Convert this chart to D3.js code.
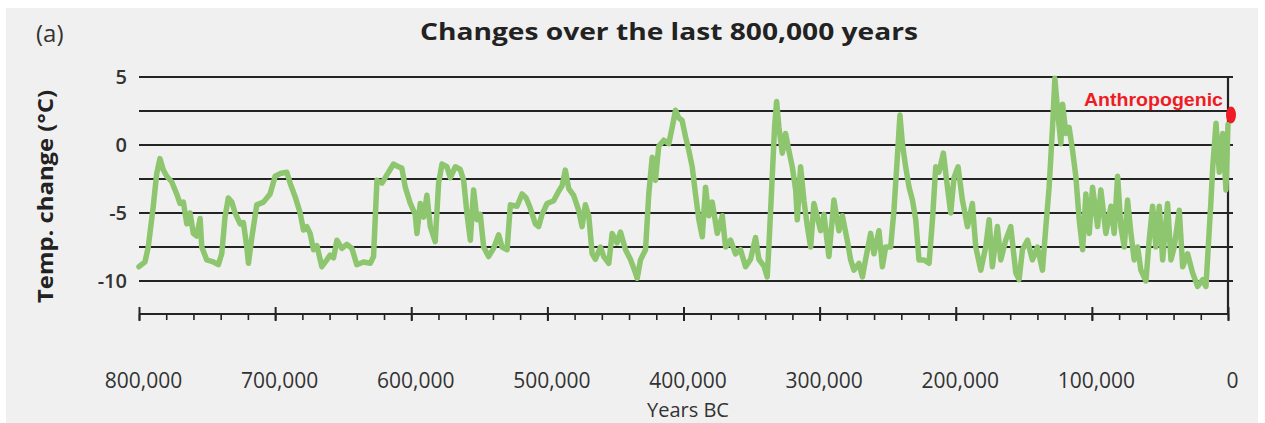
<!DOCTYPE html>
<html>
<head>
<meta charset="utf-8">
<script src="https://cdn.jsdelivr.net/npm/d3@7"></script>
<style>
  html, body { margin: 0; padding: 0; background: #ffffff; }
  svg { display: block; }
</style>
</head>
<body>
<svg id="chart" width="1265" height="423"></svg>
<script>
// ---- Data (years BC in thousands, temperature change in °C) ----
const years = [
  800, 795.6, 793.2, 789.5, 787, 784.6, 782.1, 779.6, 776, 772.3, 769.9, 767.4, 764.9, 762.5, 760.1, 757.6,
  755.1, 753.9, 750.2, 745.4, 741.7, 739.2, 736.8, 734.4, 731.8, 729.4, 725.7, 723.3, 720.8, 719.6, 717.1,
  713.5, 708.6, 703.7, 700, 696.3, 691.4, 689, 685.3, 681.6, 679.2, 676.7, 674.3, 671.8, 669.3, 665.7,
  662, 659.6, 657.1, 654.6, 651, 647.3, 643.6, 640, 635.1, 630.1, 627.7, 625.2, 621.5, 617.9, 613,
  609.4, 606.9, 604.4, 600.7, 597.1, 595.8, 593.4, 590.9, 588.5, 586, 582.4, 579.9, 577.4, 573.8, 571.3,
  567.6, 564, 561.5, 559, 556.6, 554.2, 551.7, 549.3, 546.8, 543.2, 539.5, 535.8, 533.3, 529.6, 527.2,
  522.3, 518.6, 515.6, 512.7, 508.8, 506.4, 503.9, 500.2, 495.4, 491.7, 489.2, 486.8, 484.3, 480.7, 477,
  474.5, 472.1, 469.6, 467.1, 464.7, 461, 458.6, 454.9, 452.4, 448.8, 446.3, 442.6, 439, 435.3, 434,
  431.6, 427.9, 425.5, 423, 420.6, 418.2, 414.5, 410.8, 408.3, 405.9, 403.5, 401, 398.5, 396.1, 393.6,
  391.2, 388.7, 386.2, 383.8, 381.4, 378.9, 375.2, 371.5, 369.1, 365.4, 361.8, 358.1, 354.4, 350.7, 347.1,
  344.6, 340.9, 338.5, 337.3, 334.8, 333.1, 331.6, 329.9, 327.4, 325, 322.6, 320.1, 317.6, 316.4, 314,
  311.5, 309, 306.6, 304.2, 301.7, 299.3, 296.8, 293.2, 289.5, 285.8, 283.3, 279.7, 277.2, 274.8, 271.1,
  268.6, 266.2, 262.5, 260.1, 256.4, 253.9, 251.5, 247.8, 245.4, 242.9, 241, 239.2, 236.8, 234.3, 231.8,
  229.4, 227, 223.3, 219.6, 217.1, 214.7, 212.3, 209.1, 206.1, 203.7, 201.3, 198.3, 195.1, 191.4, 187.8,
  185.3, 181.6, 178, 175.5, 173.1, 169.4, 166.9, 163.3, 159.6, 155.9, 153.5, 151, 147.3, 143.7, 140,
  136.3, 133.8, 131.4, 128.9, 127.2, 125.2, 122.8, 121.5, 119.1, 116.7, 114.2, 111.8, 109.3, 106.8, 104.4,
  101.9, 99.5, 95.8, 93.4, 89.7, 86, 83.6, 81.1, 78.7, 76.2, 73.8, 71.3, 68.9, 66.4, 64,
  60.3, 57.9, 55.4, 53, 50.5, 48, 44.4, 41.9, 39.5, 35.8, 33.3, 29.7, 26, 22.3, 18.6,
  16.2, 14.5, 12.5, 11.2, 8.8, 6.4, 3.9, 1.5, 0
];
const temps = [
  -8.95, -8.6, -7.5, -4.5, -2.1, -1.0, -1.85, -2.3, -2.7, -3.6, -4.3, -4.2, -5.8, -5.0, -6.5, -6.7,
  -5.4, -7.5, -8.45, -8.6, -8.8, -8.0, -5.3, -3.9, -4.2, -5.0, -5.8, -5.7, -7.5, -8.7, -6.8,
  -4.4, -4.2, -3.6, -2.3, -2.1, -2.0, -2.8, -3.8, -5.0, -6.25, -6.0, -6.5, -7.7, -7.4, -8.95,
  -8.45, -8.1, -8.3, -7.0, -7.6, -7.3, -7.6, -8.8, -8.6, -8.7, -8.2, -2.6, -2.8, -2.2, -1.4,
  -1.6, -1.7, -3.1, -4.3, -5.1, -6.5, -4.3, -5.3, -3.7, -6.0, -7.1, -2.8, -1.4, -1.6, -2.4,
  -1.6, -1.8, -2.6, -5.1, -7.0, -3.3, -5.5, -5.1, -7.5, -8.2, -7.6, -6.6, -7.5, -7.7, -4.4,
  -4.5, -3.6, -3.9, -4.6, -5.8, -6.0, -5.1, -4.3, -4.1, -3.4, -3.0, -1.85, -3.2, -3.7, -4.8,
  -6.0, -4.4, -5.2, -8.0, -8.4, -7.5, -8.2, -8.7, -6.5, -7.2, -6.4, -7.7, -8.4, -9.4, -9.8,
  -8.45, -7.7, -3.6, -0.9, -2.6, -0.1, 0.35, 0.1, 1.3, 2.55, 2.0, 1.8, 0.6, -0.4, -1.6,
  -3.6, -5.5, -6.75, -3.1, -5.2, -4.2, -6.5, -5.2, -7.5, -7.0, -8.0, -7.7, -8.95, -8.4, -6.8,
  -8.4, -8.9, -9.7, -7.5, -2.3, 1.3, 3.2, 1.3, -0.6, 0.85, -0.4, -1.6, -3.3, -5.5, -1.6,
  -4.1, -6.0, -7.5, -4.3, -5.3, -6.3, -5.1, -8.2, -4.05, -6.3, -5.2, -7.0, -8.45, -9.2, -8.7,
  -9.7, -8.4, -6.5, -8.0, -6.3, -8.95, -7.5, -7.5, -4.8, -0.9, 2.2, 0.1, -1.6, -3.1, -4.05,
  -5.5, -8.45, -8.45, -8.7, -5.5, -1.6, -2.0, -0.6, -3.1, -5.0, -2.4, -1.6, -4.05, -6.0, -4.3,
  -7.5, -9.2, -7.5, -5.5, -8.95, -6.0, -8.45, -7.0, -6.0, -9.4, -9.9, -7.7, -7.0, -8.45, -7.5,
  -9.2, -6.0, -3.1, 1.3, 4.9, 2.55, 0.1, 3.0, 0.85, 1.3, -0.4, -2.3, -5.5, -7.7, -3.6,
  -6.5, -3.1, -6.0, -3.3, -6.5, -4.5, -6.5, -2.3, -6.0, -7.5, -4.05, -6.5, -8.45, -7.5, -9.2,
  -10.0, -7.0, -4.5, -7.5, -4.5, -8.45, -4.3, -8.45, -7.5, -4.8, -8.95, -8.0, -9.4, -10.4, -9.9,
  -10.4, -7.5, -4.05, -1.6, 1.6, -2.0, 0.85, -3.3, 1.5
];
const yTicks = [5, 0, -5, -10];
const gridValues = [5, 2.5, 0, -2.5, -5, -7.5, -10];
const xMajorTicks = [800, 700, 600, 500, 400, 300, 200, 100, 0];
const xMinorTicks = d3.range(0, 801, 20);
const anthropogenic = { year: 0, temp: 2.2, label: "Anthropogenic" };
const titleText = "Changes over the last 800,000 years";
const panelLabel = "(a)";
const yLabel = "Temp. change (°C)";
const xLabel = "Years BC";

// ---- Drawing ----
const svg = d3.select("#chart");
const x = d3.scaleLinear().domain([800, 0]).range([139, 1228]);
const y = d3.scaleLinear().domain([-10, 5]).range([281, 77]);
const axisY = 314;
const font = "'Open Sans', 'Noto Sans', sans-serif";
const textCol = "#333333";

svg.append("rect").attr("x", 6).attr("y", 8).attr("width", 1252).attr("height", 415).attr("fill", "#f0f0f0");

// gridlines
svg.append("g").selectAll("line").data(gridValues).join("line")
  .attr("x1", x(800)).attr("x2", x(0) + 5)
  .attr("y1", d => y(d)).attr("y2", d => y(d))
  .attr("stroke", "#242424").attr("stroke-width", 2.2);

// vertical zero line
svg.append("line").attr("x1", x(0)).attr("x2", x(0)).attr("y1", y(5)).attr("y2", axisY)
  .attr("stroke", "#242424").attr("stroke-width", 2.2);

// temperature line
const data = years.map((yr, i) => ({ yr, t: temps[i] }));
svg.append("path").datum(data)
  .attr("fill", "none").attr("stroke", "#8dc66e").attr("stroke-width", 5.5)
  .attr("stroke-linejoin", "round").attr("stroke-linecap", "round")
  .attr("d", d3.line().x(d => x(d.yr)).y(d => y(d.t)));

// x axis: minor ticks
const minorAxis = d3.axisBottom(x).tickValues(xMinorTicks).tickSize(6).tickFormat("");
const gMinor = svg.append("g").attr("transform", `translate(0,${axisY})`).call(minorAxis);
gMinor.select(".domain").remove();
gMinor.selectAll("line").attr("stroke", "#242424").attr("stroke-width", 1.6);

// x axis: major ticks + labels
const majorAxis = d3.axisBottom(x).tickValues(xMajorTicks).tickSize(7)
  .tickFormat(d => d3.format(",")(d * 1000));
const gMajor = svg.append("g").attr("transform", `translate(0,${axisY})`).call(majorAxis);
gMajor.select(".domain").attr("d", `M${x(800)},0H${x(0)}`).attr("stroke", "#242424").attr("stroke-width", 2.2);
gMajor.selectAll(".tick line").attr("y1", -7).attr("y2", 7).attr("stroke", "#242424").attr("stroke-width", 2);
gMajor.selectAll(".tick text")
  .attr("y", 74).attr("dy", 0).attr("x", 4)
  .attr("fill", textCol).style("font-family", font).style("font-size", "21px").style("font-weight", "500");

// y tick labels (plain hyphen as in the reference)
const yAxis = d3.axisLeft(y).tickValues(yTicks).tickSize(0).tickPadding(0).tickFormat(d => String(d));
const gY = svg.append("g").attr("transform", "translate(127,0)").call(yAxis);
gY.select(".domain").remove();
gY.selectAll("text").attr("fill", textCol).style("font-family", font).style("font-size", "20px")
  .style("font-weight", "600").attr("dy", "0.34em");

// anthropogenic marker
svg.append("ellipse").attr("cx", x(anthropogenic.year) + 3).attr("cy", y(anthropogenic.temp))
  .attr("rx", 5).attr("ry", 8.5).attr("fill", "#ee1c25");
svg.append("text").attr("x", 1223).attr("y", 106).attr("text-anchor", "end")
  .attr("textLength", 139).attr("lengthAdjust", "spacingAndGlyphs")
  .attr("fill", "#ee1c25").style("font-family", "'Liberation Sans', Arial, sans-serif")
  .style("font-weight", "bold").style("font-size", "19px").text(anthropogenic.label);

// title & labels
svg.append("text").attr("x", 669).attr("y", 40).attr("text-anchor", "middle")
  .attr("textLength", 498).attr("lengthAdjust", "spacingAndGlyphs")
  .attr("fill", "#222").style("font-family", font).style("font-weight", "700").style("font-size", "24px")
  .text(titleText);
svg.append("text").attr("x", 36).attr("y", 42)
  .attr("fill", textCol).style("font-family", font).style("font-size", "24px").text(panelLabel);
svg.append("text").attr("transform", "translate(53,196.5) rotate(-90)").attr("text-anchor", "middle")
  .attr("textLength", 213).attr("lengthAdjust", "spacingAndGlyphs")
  .attr("fill", "#222").style("font-family", font).style("font-weight", "700").style("font-size", "21px")
  .text(yLabel);
svg.append("text").attr("x", 688).attr("y", 417).attr("text-anchor", "middle")
  .attr("fill", textCol).style("font-family", font).style("font-size", "20px").text(xLabel);
</script>
</body>
</html>
